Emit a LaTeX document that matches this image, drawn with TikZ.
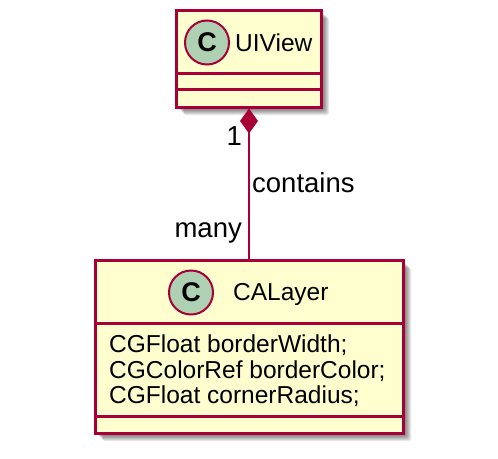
\documentclass[tikz,border=0pt]{standalone}
\usepackage{fontspec}
\setmainfont{Liberation Sans}
\usetikzlibrary{arrows.meta}
\definecolor{umlred}{HTML}{A80036}
\definecolor{umlfill}{HTML}{FEFECE}
\definecolor{umlcirc}{HTML}{ADD1B2}
\tikzset{
  classbox/.style={draw=umlred, fill=umlfill, line width=3pt, inner sep=0pt},
  ccirc/.style={circle, draw=umlred, fill=umlcirc, line width=2pt, inner sep=0pt, minimum size=44pt,
    font=\fontsize{27}{30}\selectfont\bfseries},
  cname/.style={font=\fontsize{24.5}{29}\selectfont, inner sep=0pt},
  attr/.style={font=\fontsize{24.5}{29}\selectfont, inner sep=0pt, anchor=base west},
  lbl/.style={font=\fontsize{27.5}{32}\selectfont, inner sep=0pt},
  divider/.style={draw=umlred, line width=3pt},
  assoc/.style={draw=umlred, line width=2.2pt},
}
\begin{document}
\begin{tikzpicture}[x=1pt, y=-1pt]
\useasboundingbox (0,0) rectangle (498,458);
% shadows
\foreach \d in {2,3,4,5,6,7,8}{
  \fill[black, opacity=0.09, rounded corners=2pt] (176+\d,10+\d) rectangle (321+\d,107+\d);
  \fill[black, opacity=0.09, rounded corners=2pt] (95+\d,260+\d) rectangle (403+\d,433+\d);
}
% UIView
\node[classbox, minimum width=145pt, minimum height=97pt] (uiview) at (248.5,58.5) {};
\draw[divider] (uiview.west |- 0,73) -- (uiview.east |- 0,73);
\draw[divider] (uiview.west |- 0,89) -- (uiview.east |- 0,89);
\node[ccirc] (ucirc) at (207,42.5) {C};
\node[cname, anchor=base west] (uname) at (235,51) {UIView};
% CALayer
\node[classbox, minimum width=308pt, minimum height=173pt] (calayer) at (249,346.5) {};
\draw[divider] (calayer.west |- 0,323) -- (calayer.east |- 0,323);
\draw[divider] (calayer.west |- 0,416) -- (calayer.east |- 0,416);
\node[ccirc] (ccirc2) at (191,292.5) {C};
\node[cname, anchor=base west] (cname2) at (233,300) {CALayer};
\node[attr] (a1) at (109,352) {CGFloat borderWidth;};
\node[attr] (a2) at (109,378) {CGColorRef borderColor;};
\node[attr] (a3) at (109,403) {CGFloat cornerRadius;};
% association
\draw[assoc, {Diamond[length=25pt, width=18pt, fill=umlred]}-] ([xshift=0.5pt]uiview.south) -- (calayer.north);
\node[lbl, anchor=base east] (one) at (242,145) {1};
\node[lbl, anchor=base west] (cont) at (252,192) {contains};
\node[lbl, anchor=base east] (many) at (242,237) {many};
\end{tikzpicture}
\end{document}
